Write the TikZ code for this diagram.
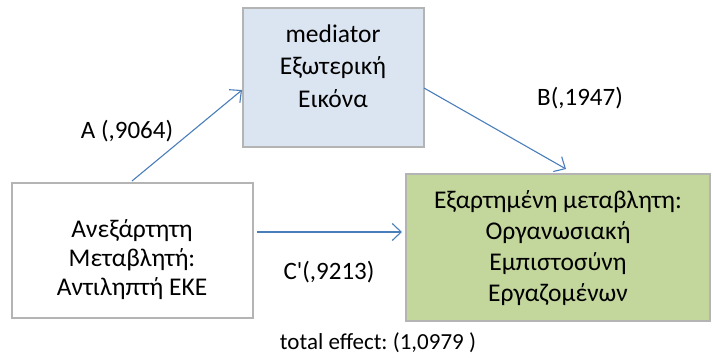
\documentclass[tikz,border=0pt]{standalone}
\usepackage{fontspec}
\setmainfont{Carlito}
\newfontfamily\rawfont{Carlito}[Ligatures=TeXOff]
\frenchspacing
\usetikzlibrary{arrows.meta}
\definecolor{medfill}{HTML}{DBE5F1}
\definecolor{grnfill}{HTML}{C3D69B}
\definecolor{boxline}{HTML}{B4B4B4}
\definecolor{arr}{HTML}{4A7EBB}
\tikzset{
  boxnode/.style={draw=boxline, line width=1.2pt, inner sep=0pt},
  boxtext/.style={align=center, font=\fontsize{25.5}{32.5}\selectfont, inner sep=0pt},
  lbl/.style={font=\fontsize{25}{28}\selectfont, inner sep=0pt},
  conn/.style={draw=arr, line width=1.1pt, -{Straight Barb[length=9pt,width=17pt,line width=1.1pt]}}
}
\begin{document}
\begin{tikzpicture}[x=1pt,y=-1pt]
\useasboundingbox (0,0) rectangle (713,358);
\node[boxnode, fill=medfill, minimum width=181pt, minimum height=139pt] (med) at (333.5,77.5) {};
\node[boxnode, fill=white, minimum width=241pt, minimum height=135pt] (iv) at (132.5,250.5) {};
\node[boxnode, fill=grnfill, minimum width=304pt, minimum height=147pt] (dv) at (558,247.5) {};
\node[boxtext] (medt) at (333,66) {mediator\\Εξωτερική\\Εικόνα};
\node[boxtext, font=\fontsize{25.5}{29}\selectfont] (ivt) at (132,260) {Ανεξάρτητη\\Μεταβλητή:\\Αντιληπτή ΕΚΕ};
\node[boxtext, font=\fontsize{25.5}{31}\selectfont] (dvt) at (558,248.5) {Εξαρτημένη μεταβλητη:\\Οργανωσιακή\\Εμπιστοσύνη\\Εργαζομένων};
\coordinate (a1) at (132,181);
\coordinate (a2) at (242,90);
\coordinate (b1) at (424,88);
\coordinate (b2) at (566,169);
\coordinate (c1) at (257,232);
\coordinate (c2) at (402,232);
\draw[conn] (a1) -- (a2);
\draw[conn] (b1) -- (b2);
\draw[conn] (c1) -- (c2);
\node[lbl] (la) at (127,131) {A (,9064)};
\node[lbl] (lb) at (580,98) {B(,1947)};
\node[lbl] (lc) at (329,272) {{\rawfont C'}(,9213)};
\node[font=\fontsize{23}{26}\selectfont, inner sep=0pt] (te) at (378,343) {total effect: (1,0979 )};
\end{tikzpicture}
\end{document}
